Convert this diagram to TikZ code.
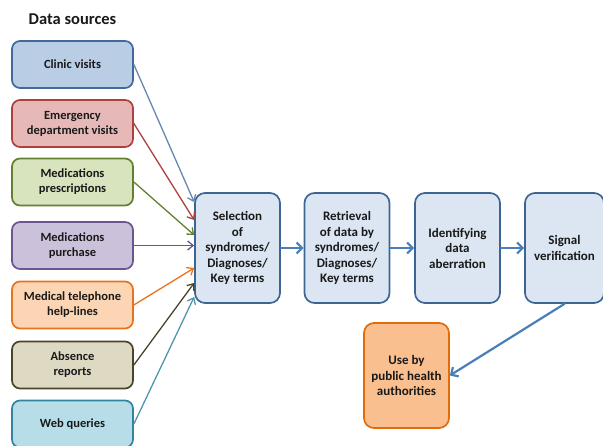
\documentclass[tikz,border=0pt]{standalone}
\usepackage{fontspec}
\setmainfont{Carlito}
\usepackage{xcolor}
\usetikzlibrary{arrows.meta,calc}
\definecolor{clinicfill}{HTML}{B9CDE5}
\definecolor{clinicline}{HTML}{41699C}
\definecolor{emergfill}{HTML}{E6B9B8}
\definecolor{emergline}{HTML}{AE403D}
\definecolor{prescfill}{HTML}{D7E4BD}
\definecolor{prescline}{HTML}{62802F}
\definecolor{purchfill}{HTML}{CCC1DA}
\definecolor{purchline}{HTML}{6B5590}
\definecolor{telefill}{HTML}{FCD5B5}
\definecolor{teleline}{HTML}{E8731C}
\definecolor{absfill}{HTML}{DDD9C3}
\definecolor{absline}{HTML}{4A452A}
\definecolor{webfill}{HTML}{B7DEE8}
\definecolor{webline}{HTML}{31849B}
\definecolor{procfill}{HTML}{DCE6F2}
\definecolor{procline}{HTML}{3D6594}
\definecolor{usefill}{HTML}{F9BF8F}
\definecolor{useline}{HTML}{E36C09}
\definecolor{flowblue}{HTML}{4A7EBB}
\begin{document}
\begin{tikzpicture}[line cap=round,line join=round,x=1pt,y=-1pt,
    srcbox/.style={draw,rounded corners=8pt,line width=1.7pt,minimum width=121pt,minimum height=47pt,inner sep=0pt,align=center,text=black!90,font=\bfseries\fontsize{12.5}{15}\selectfont},
    procbox/.style={draw=procline,fill=procfill,rounded corners=10pt,line width=1.7pt,minimum width=85pt,minimum height=110pt,inner sep=0pt,align=center,text=black!90,font=\bfseries\fontsize{13}{15.5}\selectfont},
    feed/.style={line width=1.3pt,-{Straight Barb[length=5.5pt,width=9pt]}},
    flow/.style={line width=2.2pt,draw=flowblue,-{Straight Barb[length=5.5pt,width=11pt]}}]
    \useasboundingbox (0,0) rectangle (603,446);
    \node[anchor=base,text=black!90,font=\bfseries\fontsize{16.5}{18}\selectfont] (title) at (72.5,25) {Data sources};
    \node[srcbox,draw=clinicline,fill=clinicfill] (clinic) at (72.5,64.5) {Clinic visits};
    \node[srcbox,draw=emergline,fill=emergfill] (emerg) at (72.5,123.5) {Emergency\\department visits};
    \node[srcbox,draw=prescline,fill=prescfill] (presc) at (72.5,182) {Medications\\prescriptions};
    \node[srcbox,draw=purchline,fill=purchfill] (purch) at (72.5,245.5) {Medications\\purchase};
    \node[srcbox,draw=teleline,fill=telefill] (tele) at (72.5,305) {Medical telephone\\help-lines};
    \node[srcbox,draw=absline,fill=absfill] (absence) at (72.5,365) {Absence\\reports};
    \node[srcbox,draw=webline,fill=webfill] (web) at (72.5,424) {Web queries};
    \node[procbox] (select) at (237.5,248) {Selection\\of\\syndromes/\\Diagnoses/\\Key terms};
    \node[procbox] (retr) at (347,248) {Retrieval\\of data by\\syndromes/\\Diagnoses/\\Key terms};
    \node[procbox] (ident) at (457.5,248) {Identifying\\data\\aberration};
    \node[procbox,minimum width=79pt] (signal) at (564.5,248) {Signal\\verification};
    \node[procbox,draw=useline,fill=usefill,minimum height=105pt] (useby) at (406.5,375.5) {Use by\\public health\\authorities};
    \draw[feed,color=clinicline!80!white] (clinic.east) -- ($(select.west)+(0,-46)$);
    \draw[feed,color=emergline] (emerg.east) -- ($(select.west)+(0,-28)$);
    \draw[feed,color=prescline] (presc.east) -- ($(select.west)+(0,-13)$);
    \draw[feed,color=purchline] (purch.east) -- (purch.east -| select.west);
    \draw[feed,color=teleline] (tele.east) -- ($(select.west)+(0,20)$);
    \draw[feed,color=absline] (absence.east) -- ($(select.west)+(0,35)$);
    \draw[feed,color=webline!85!white] (web.east) -- ($(select.west)+(0,49)$);
    \draw[flow] (select) -- (retr);
    \draw[flow] (retr) -- (ident);
    \draw[flow] (ident) -- (signal);
    \draw[flow] (signal.south) -- (useby.east);
\end{tikzpicture}
\end{document}
